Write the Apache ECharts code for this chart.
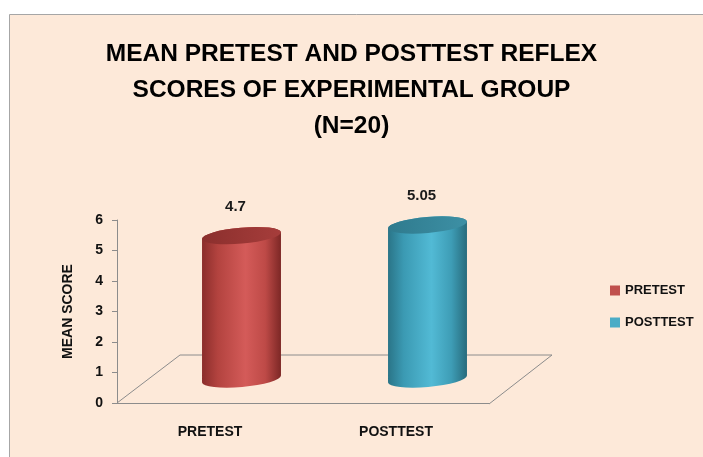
<!DOCTYPE html>
<html>
<head>
<meta charset="utf-8">
<style>
  html, body { margin: 0; padding: 0; background: #fff; }
  #chart { width: 703px; height: 457px; }
</style>
<script src="https://cdn.jsdelivr.net/npm/echarts@6/dist/echarts.min.js"></script>
</head>
<body>
<div id="chart"></div>
<script>
var categories = ['PRETEST', 'POSTTEST'];
var scores = [4.7, 5.05];
var yTicks = [0, 1, 2, 3, 4, 5, 6];
var titleText = 'MEAN PRETEST AND POSTTEST REFLEX\nSCORES OF EXPERIMENTAL GROUP\n(N=20)';

var FONT = '"Liberation Sans", Arial, sans-serif';
// 3d depth of the floor, in px
var DX = 63, DY = -48;

var palette = [
    { flat: '#C0504D', body: ['#8A2D2B', '#B3433F', '#D45B59', '#BE4A47', '#7C2725'], top: ['#8B2F2D', '#A63D3B'] },
    { flat: '#4BACC6', body: ['#2A7487', '#3B9AB3', '#52BAD5', '#3E9DB6', '#276B7C'], top: ['#2F7A8D', '#3D90A5'] }
];

var stops = function(cols) {
    var pos = [0, 0.2, 0.55, 0.8, 1];
    return cols.map(function(c, i) { return { offset: pos[i], color: c }; });
};

var renderFloor = function(params, api) {
    var cs = params.coordSys;
    var x0 = cs.x, x1 = cs.x + cs.width, yb = cs.y + cs.height;
    var st = { stroke: '#8C8C8C', lineWidth: 1 };
    return {
        type: 'group',
        children: [
            { type: 'line', shape: { x1: x0, y1: yb, x2: x0 + DX, y2: yb + DY }, style: st },
            { type: 'line', shape: { x1: x0 + DX, y1: yb + DY, x2: x1 + DX, y2: yb + DY }, style: st },
            { type: 'line', shape: { x1: x1, y1: yb + 1, x2: x1 + DX, y2: yb + DY }, style: st }
        ]
    };
};

var makeCylinder = function(k) {
    return function(params, api) {
        var base = api.coord([api.value(0), 0]);
        var top = api.coord([api.value(0), api.value(1)]);
        var band = api.size([1, 0])[0];
        var cx = base[0] + DX / 2;
        var by = base[1] + DY / 2;
        var ty = top[1] + DY / 2;
        var rx = band * 0.213, ry = 8, tilt = -5;
        var a = tilt * Math.PI / 180;
        var hx = rx * Math.cos(a), s = -rx * Math.sin(a);
        var lx = cx - hx, rxp = cx + hx;
        var arc = ' A ' + rx + ' ' + ry + ' ' + tilt + ' 0 0 ';
        var body = 'M ' + lx + ' ' + (ty + s) + ' L ' + lx + ' ' + (by + s) +
            arc + rxp + ' ' + (by - s) + ' L ' + rxp + ' ' + (ty - s) +
            arc + lx + ' ' + (ty + s) + ' Z';
        var cap = 'M ' + lx + ' ' + (ty + s) + arc + rxp + ' ' + (ty - s) +
            arc + lx + ' ' + (ty + s) + ' Z';
        var c = palette[k];
        return {
            type: 'group',
            children: [
                { type: 'path', shape: { pathData: body },
                  style: { fill: new echarts.graphic.LinearGradient(0, 0, 1, 0, stops(c.body)) } },
                { type: 'path', shape: { pathData: cap },
                  style: { fill: new echarts.graphic.LinearGradient(0, 0, 1, 0, [
                      { offset: 0, color: c.top[0] }, { offset: 1, color: c.top[1] }]) } },
                { type: 'text', x: cx - 6, y: ty - 29,
                  style: { text: String(api.value(1)), align: 'center', verticalAlign: 'middle',
                           textAlign: 'center', textVerticalAlign: 'middle',
                           font: 'bold 15px ' + FONT, fill: '#1a1a1a' } }
            ]
        };
    };
};

var series = [{
    type: 'custom',
    silent: true,
    renderItem: renderFloor,
    data: [[0, 0]],
    z: 1
}];
categories.forEach(function(name, i) {
    series.push({
        type: 'custom',
        name: name,
        renderItem: makeCylinder(i),
        itemStyle: { color: palette[i].flat },
        data: [[i, scores[i]]],
        z: 2
    });
});

var chart = echarts.init(document.getElementById('chart'), null, { renderer: 'canvas' });
chart.setOption({
    backgroundColor: '#ffffff',
    animation: false,
    graphic: [{
        type: 'rect',
        z: -10,
        shape: { x: 9.5, y: 14.5, width: 720, height: 460 },
        style: { fill: '#FDE9D9', stroke: '#A6A6A6', lineWidth: 1 }
    }],
    title: {
        text: titleText,
        left: 'center',
        top: 31,
        textStyle: { fontFamily: FONT, fontWeight: 'bold', fontSize: 24.5, lineHeight: 36, color: '#000' }
    },
    legend: {
        data: categories,
        orient: 'vertical',
        left: 605,
        top: 279,
        icon: 'rect',
        itemWidth: 10,
        itemHeight: 10,
        itemGap: 19,
        textStyle: { fontFamily: FONT, fontWeight: 'bold', fontSize: 13, color: '#111' }
    },
    grid: { left: 117, top: 220, width: 372, height: 183 },
    xAxis: {
        type: 'category',
        data: categories,
        axisLine: { lineStyle: { color: '#8C8C8C' } },
        axisTick: { length: 5, lineStyle: { color: '#8C8C8C' } },
        axisLabel: { margin: 22, fontFamily: FONT, fontWeight: 'bold', fontSize: 14, color: '#111' },
        splitLine: { show: false }
    },
    yAxis: {
        type: 'value',
        min: yTicks[0],
        max: yTicks[yTicks.length - 1],
        interval: 1,
        name: 'MEAN SCORE',
        nameLocation: 'middle',
        nameGap: 42,
        nameRotate: 90,
        nameTextStyle: { fontFamily: FONT, fontWeight: 'bold', fontSize: 14, color: '#111' },
        axisLine: { show: true, lineStyle: { color: '#8C8C8C' } },
        axisTick: { show: true, length: 5, lineStyle: { color: '#8C8C8C' } },
        axisLabel: { margin: 14, fontFamily: FONT, fontWeight: 'bold', fontSize: 14, color: '#111' },
        splitLine: { show: false }
    },
    series: series
});
</script>
</body>
</html>
